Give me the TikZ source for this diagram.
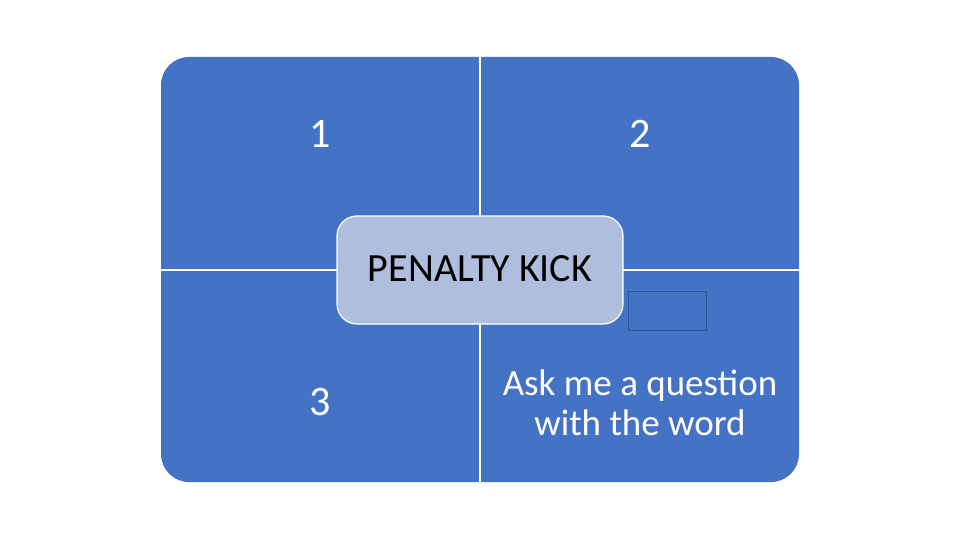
\documentclass[tikz,border=0pt]{standalone}
\usepackage{fontspec}
\setmainfont{Carlito}
\definecolor{qblue}{RGB}{68,114,196}
\definecolor{cfill}{RGB}{176,190,222}
\definecolor{sborder}{RGB}{47,82,143}
\begin{document}
\begin{tikzpicture}[x=1pt,y=-1pt,
  quad/.style={fill=qblue,draw=none},
  divider/.style={draw=white,line width=1.2pt},
  qtext/.style={text=white,font=\fontsize{37}{40}\selectfont,align=center,inner sep=0pt},
  numtext/.style={text=white,font=\fontsize{42}{48}\selectfont,inner sep=0pt},
  centerbox/.style={fill=cfill,draw=white,line width=1.2pt,rounded corners=20pt},
  smallbox/.style={fill=qblue,draw=sborder,line width=0.9pt}]
\useasboundingbox[fill=white] (0,0) rectangle (960,540);
\fill[quad,rounded corners=28pt] (161,57) rectangle (799,482);
\coordinate (vt) at (480,57);
\coordinate (vb) at (480,482);
\coordinate (hl) at (161,270);
\coordinate (hr) at (799,270);
\draw[divider] (vt) -- (vb);
\draw[divider] (hl) -- (hr);
\node[numtext] (q1) at (320,134) {1};
\node[numtext] (q2) at (640,134) {2};
\node[numtext] (q3) at (320,402) {3};
\node[qtext] (q4) at (640,403) {Ask me a question\\with the word};
\draw[centerbox] (337,216) rectangle (623,324);
\node[text=black,font=\fontsize{40}{48}\selectfont,inner sep=0pt] (center) at (480,269) {PENALTY KICK};
\draw[smallbox] (628,291) rectangle (706,330);
\end{tikzpicture}
\end{document}
